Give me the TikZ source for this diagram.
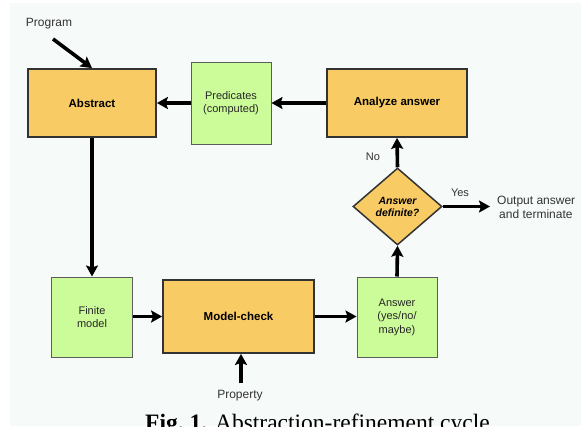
\documentclass[tikz,border=0pt]{standalone}
\usepackage{fontspec}
\setmainfont{Liberation Sans}
\newfontfamily\capfont{Liberation Serif}
\usetikzlibrary{shapes.geometric,arrows.meta}
\definecolor{bgtint}{HTML}{F6FAF8}
\definecolor{orangebox}{HTML}{F8CB64}
\definecolor{greenbox}{HTML}{CCFC9A}
\definecolor{edgegray}{HTML}{333333}
\tikzset{
  orangenode/.style={draw=edgegray, line width=1.8pt, fill=orangebox, inner sep=0pt,
    font=\fontsize{11.5}{13}\selectfont\bfseries, text=black, align=center},
  greennode/.style={draw=edgegray!80, line width=1pt, fill=greenbox, inner sep=0pt,
    font=\fontsize{11}{13.5}\selectfont, text=black!85, align=center},
  flow/.style={line width=3.6pt, -{Stealth[length=11pt,width=12pt,inset=2pt]}},
  plainlabel/.style={font=\fontsize{12}{14}\selectfont, text=black!80, inner sep=0pt, align=left},
  smalllabel/.style={font=\fontsize{11}{13}\selectfont, text=black!80, inner sep=0pt}
}
\begin{document}
\begin{tikzpicture}[x=1pt,y=-1pt]
\useasboundingbox (0,0) rectangle (581,426);
\clip (0,0) rectangle (581,426);
\fill[white] (0,0) rectangle (581,426);
\fill[bgtint] (10,3) rectangle (581,426);

\node[orangenode, minimum width=128pt, minimum height=68pt] (abs) at (92,103) {Abstract};
\node[greennode, minimum width=80pt, minimum height=82pt] (pred) at (231,103) {Predicates\\(computed)};
\node[orangenode, minimum width=140pt, minimum height=68pt] (ana) at (397,103) {Analyze answer};
\node[orangenode, shape=diamond, minimum width=89pt, minimum height=77pt, line width=1.5pt,
  font=\fontsize{10.5}{12}\selectfont\bfseries\itshape] (dec) at (397.5,206.5) {Answer\\definite?};
\node[greennode, minimum width=81pt, minimum height=80pt] (fin) at (92,317) {Finite\\model};
\node[orangenode, minimum width=151pt, minimum height=73pt] (mc) at (238.5,316.5) {Model-check};
\node[greennode, minimum width=80pt, minimum height=80pt] (ans) at (397,317) {Answer\\(yes/no/\\maybe)};

\node[plainlabel, anchor=center] (prog) at (49,24) {Program};
\coordinate (progstart) at (53,39);
\node[plainlabel, anchor=center] (prop) at (240,396) {Property};
\coordinate (propstart) at (241,383);
\node[plainlabel, anchor=west] (out) at (497,207) {Output answer\\\,and terminate};
\coordinate (outend) at (490,206.5);
\node[smalllabel] (no) at (373,157) {No};
\node[smalllabel] (yes) at (460,193) {Yes};

\draw[flow] (progstart) -- (abs.north);
\draw[flow] (abs.south) -- (fin.north);
\draw[flow] (pred.west) -- (abs.east);
\draw[flow] (ana.west) -- (pred.east);
\draw[flow] (fin.east |- mc.west) -- (mc.west);
\draw[flow] (mc.east) -- (mc.east -| ans.west);
\draw[flow] (ans.north) -- (dec.south);
\draw[flow] (dec.north) -- (ana.south);
\draw[flow] (dec.east) -- (outend);
\draw[flow] (propstart) -- (propstart |- mc.south);

\node[anchor=base west, inner sep=0pt, font=\capfont\fontsize{23.5}{26}\selectfont] (cap) at (145,430.5)
  {\textbf{Fig.~1.} Abstraction-refinement cycle};
\end{tikzpicture}
\end{document}
